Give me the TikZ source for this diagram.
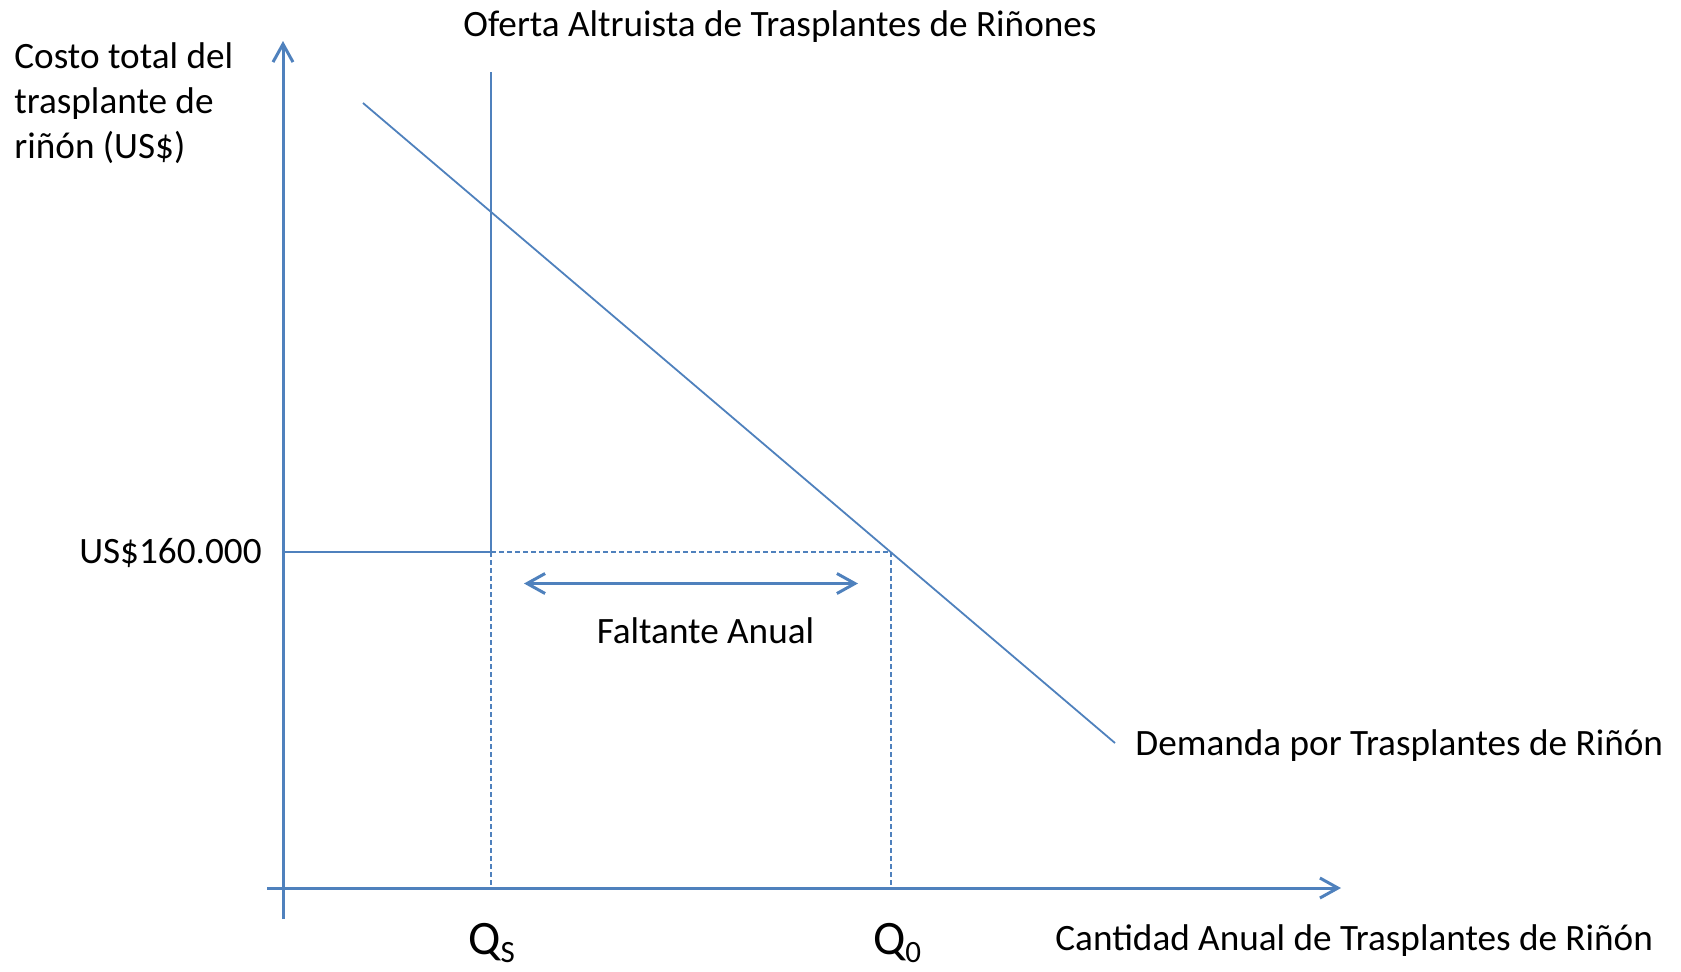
\documentclass[tikz,border=0pt]{standalone}
\usepackage{fontspec}
\setmainfont{Carlito}
\usetikzlibrary{arrows.meta}
\definecolor{lineblue}{RGB}{79,129,189}
\begin{document}
\begin{tikzpicture}[x=0.5pt,y=-0.5pt,
  axisline/.style={draw=lineblue,line width=1.5pt,-{Straight Barb[length=9pt,width=10pt]}},
  curveline/.style={draw=lineblue,line width=0.9pt},
  guideline/.style={draw=lineblue,line width=0.8pt,dash pattern=on 2.5pt off 1.5pt},
  gaparrow/.style={draw=lineblue,line width=1.5pt,{Straight Barb[length=9pt,width=10pt]}-{Straight Barb[length=9pt,width=10pt]}},
  lbl/.style={inner sep=0pt,font=\fontsize{18.6}{22.5}\selectfont,text=black},
  qlbl/.style={inner sep=0pt,font=\fontsize{24}{28}\selectfont,text=black}]
\useasboundingbox (0,0) rectangle (1681,971);
\coordinate (ybot) at (283,919);
\coordinate (ytop) at (283,41);
\coordinate (xleft) at (267,888);
\coordinate (xright) at (1341,888);
\coordinate (stop) at (491,72);
\coordinate (sP) at (491,552);
\coordinate (sbase) at (491,888);
\coordinate (pleft) at (283,552);
\coordinate (E) at (891,552);
\coordinate (Ebase) at (891,888);
\coordinate (dtop) at (363,103);
\coordinate (dbot) at (1115,743);
\coordinate (gapL) at (524,583.5);
\coordinate (gapR) at (858,583.5);
\draw[axisline] (ybot) -- (ytop);
\draw[axisline] (xleft) -- (xright);
\draw[curveline] (stop) -- (sP);
\draw[curveline] (pleft) -- (sP);
\draw[guideline] (sP) -- (sbase);
\draw[guideline] (sP) -- (E);
\draw[guideline] (E) -- (Ebase);
\draw[curveline] (dtop) -- (dbot);
\draw[gaparrow] (gapL) -- (gapR);
\node[lbl,anchor=base west] (ylab1) at (14,68) {Costo total del};
\node[lbl,anchor=base west] (ylab2) at (14,113) {trasplante de};
\node[lbl,anchor=base west] (ylab3) at (14,158) {riñón (US\$)};
\node[lbl,anchor=base west] (title) at (463,36) {Oferta Altruista de Trasplantes de Riñones};
\node[lbl,anchor=base east] (price) at (262,563) {US\$160.000};
\node[lbl,anchor=base] (gaplbl) at (705.5,643) {Faltante Anual};
\node[lbl,anchor=base west] (dlbl) at (1135,755) {Demanda por Trasplantes de Riñón};
\node[lbl,anchor=base west] (xlbl) at (1055,950) {Cantidad Anual de Trasplantes de Riñón};
\node[qlbl,anchor=base] (qs) at (491.5,954) {Q\raisebox{-4pt}{\fontsize{15.5}{18}\selectfont S}};
\node[qlbl,anchor=base] (q0) at (897,954) {Q\raisebox{-4pt}{\fontsize{15.5}{18}\selectfont 0}};
\end{tikzpicture}
\end{document}
